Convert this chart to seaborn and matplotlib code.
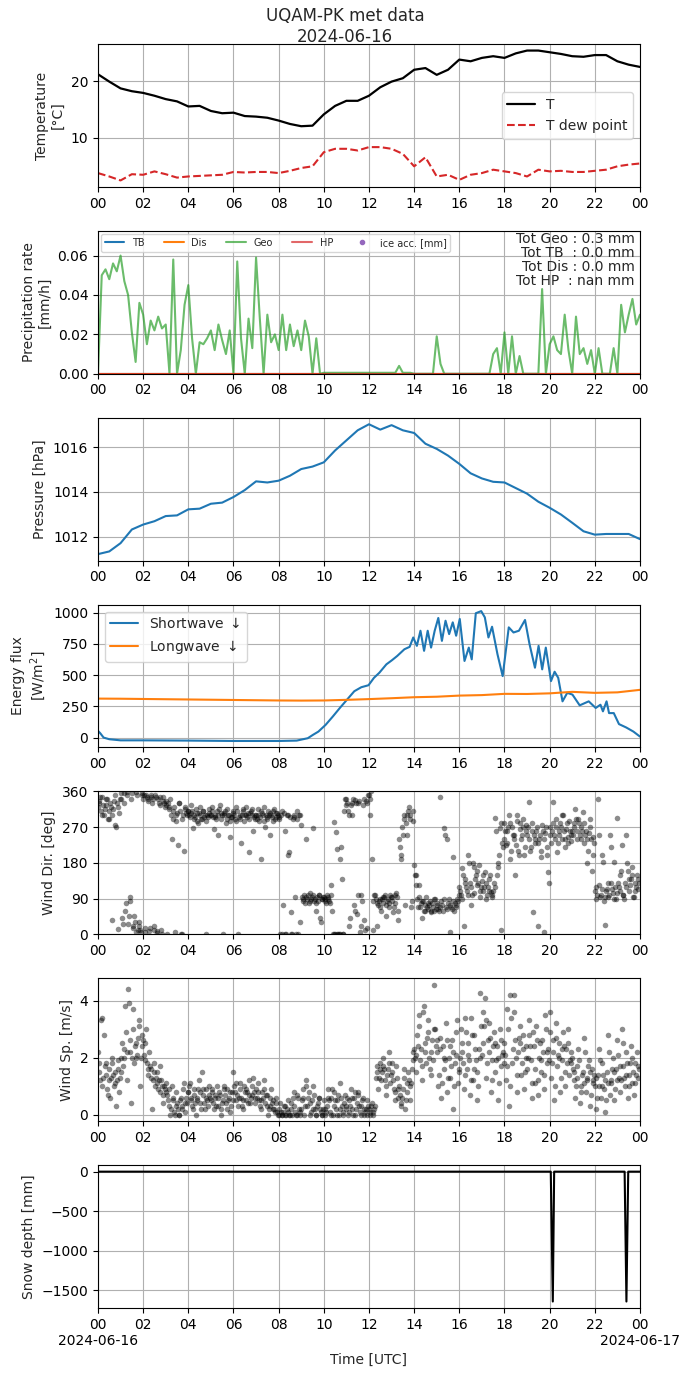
import numpy as np
import pandas as pd
import matplotlib
matplotlib.use("Agg")
import matplotlib.pyplot as plt
import matplotlib.dates as mdates
from matplotlib.ticker import MultipleLocator
import seaborn as sns

OUT_PATH = "out.png"
DAY      = pd.Timestamp("2024-06-16")

# temperature + dew point, every 30 min (degC)
temp_T = [21.2, 19.9, 18.7, 18.2, 17.9, 17.4, 16.8, 16.4, 15.5, 15.6,
          14.7, 14.3, 14.4, 13.8, 13.7, 13.5, 13.0, 12.4, 12.0, 12.1,
          14.1, 15.6, 16.5, 16.5, 17.4, 18.9, 19.9, 20.5, 22.0, 22.3,
          21.1, 22.0, 23.8, 23.5, 24.1, 24.4, 24.1, 24.9, 25.4, 25.4,
          25.1, 24.8, 24.4, 24.3, 24.6, 24.6, 23.5, 22.9, 22.5]
temp_Td = [3.7, 3.1, 2.4, 3.5, 3.4, 4.0, 3.5, 2.9, 3.1, 3.2,
           3.3, 3.4, 3.9, 3.8, 3.9, 3.9, 3.7, 4.1, 4.6, 4.9,
           7.4, 8.0, 8.0, 7.7, 8.3, 8.3, 8.0, 7.1, 4.9, 6.5,
           3.1, 3.4, 2.5, 3.4, 3.7, 4.3, 4.0, 3.7, 3.1, 4.3,
           4.0, 4.1, 3.9, 3.9, 4.1, 4.3, 4.9, 5.2, 5.4]

# precipitation rate, every 10 min (mm/h)
precip_geo = [
    0.000, 0.050, 0.053, 0.048, 0.056, 0.052,
    0.060, 0.047, 0.040, 0.021, 0.006, 0.036,
    0.030, 0.015, 0.027, 0.022, 0.029, 0.023,
    0.025, 0.000, 0.058, 0.000, 0.012, 0.035,
    0.045, 0.018, 0.000, 0.016, 0.015, 0.018,
    0.022, 0.012, 0.025, 0.017, 0.010, 0.022,
    0.000, 0.057, 0.018, 0.000, 0.028, 0.013,
    0.059, 0.028, 0.000, 0.030, 0.016, 0.020,
    0.012, 0.030, 0.012, 0.025, 0.014, 0.022,
    0.012, 0.027, 0.019, 0.000, 0.018, 0.000,
    0.0005, 0.0005, 0.0005, 0.0005, 0.0005, 0.0005,
    0.0005, 0.0005, 0.0005, 0.0005, 0.0005, 0.0005,
    0.0005, 0.0005, 0.0005, 0.0005, 0.0005, 0.0005,
    0.0005, 0.0005, 0.004, 0.0005, 0.0005, 0.0005,
    0.000, 0.000, 0.000, 0.000, 0.000, 0.000,
    0.019, 0.005, 0.000, 0.000, 0.000, 0.000,
    0.000, 0.000, 0.000, 0.000, 0.000, 0.000,
    0.000, 0.000, 0.000, 0.010, 0.013, 0.000,
    0.021, 0.000, 0.019, 0.000, 0.009, 0.000,
    0.000, 0.000, 0.000, 0.000, 0.043, 0.000,
    0.015, 0.019, 0.012, 0.010, 0.030, 0.012,
    0.000, 0.029, 0.010, 0.013, 0.005, 0.012,
    0.000, 0.013, 0.000, 0.000, 0.000, 0.013,
    0.000, 0.035, 0.021, 0.030, 0.038, 0.025,
    0.030]
precip_tb  = [0.0] * len(precip_geo)
precip_dis = [0.0] * len(precip_geo)
precip_hp  = [0.0] * len(precip_geo)

# pressure, every 30 min (hPa)
pressure = [1011.22, 1011.34, 1011.71, 1012.32, 1012.54, 1012.69, 1012.92, 1012.95,
            1013.22, 1013.25, 1013.47, 1013.52, 1013.77, 1014.08, 1014.47, 1014.42,
            1014.50, 1014.72, 1015.02, 1015.13, 1015.32, 1015.85, 1016.30, 1016.75,
            1017.02, 1016.78, 1016.98, 1016.75, 1016.63, 1016.15, 1015.92, 1015.62,
            1015.25, 1014.83, 1014.60, 1014.45, 1014.42, 1014.17, 1013.92, 1013.56,
            1013.29, 1012.99, 1012.62, 1012.24, 1012.09, 1012.12, 1012.12, 1012.12,
            1011.89]

# shortwave down (W/m2), irregular read-off times in hours
sw_hour = [0.0, 0.1, 0.25, 0.5, 1.0, 2.0, 4.0, 6.0, 8.0, 8.8, 9.29, 9.52, 9.76,
           10.08, 10.4, 10.71, 11.03, 11.35, 11.66, 11.98, 12.22, 12.46, 12.77,
           13.01, 13.25, 13.57, 13.8, 13.96, 14.12, 14.28, 14.44, 14.6, 14.75,
           14.91, 15.07, 15.23, 15.39, 15.55, 15.71, 15.86, 16.02, 16.23, 16.42,
           16.55, 16.73, 16.97, 17.13, 17.29, 17.45, 17.69, 17.92, 18.19, 18.4,
           18.64, 18.91, 19.11, 19.35, 19.51, 19.67, 19.83, 20.06, 20.22, 20.38,
           20.57, 20.78, 21.01, 21.33, 21.73, 22.04, 22.25, 22.36, 22.52, 22.63,
           22.84, 23.07, 23.39, 23.71, 24.0]
sw_down = [54, 35, 0, -13, -22, -22, -24, -27, -27, -24, -5, 22, 48,
           102, 169, 237, 304, 371, 403, 419, 478, 519, 586,
           618, 653, 707, 726, 801, 734, 855, 694, 855, 720,
           855, 957, 774, 935, 828, 922, 815, 949, 613, 720,
           626, 995, 1012, 962, 801, 887, 667, 492, 882, 841,
           855, 941, 747, 559, 734, 546, 720, 452, 527, 478,
           290, 358, 344, 258, 290, 237, 263, 210, 290, 196,
           196, 108, 81, 48, 8]

# longwave down, hourly (W/m2)
lw_down = [312, 311, 309, 307, 305, 303, 301, 299, 297, 296, 297, 302, 308,
           315, 323, 327, 336, 340, 350, 349, 354, 366, 358, 362, 382]

# wind direction (deg), one value every 2 min, one row per hour
wind_dir = [
    320, 330, 335, 345, 310, 300, 345, 325, 300, 315, 325, 340, 340, 290, 290, 310, 330, 320, 37, 300, 315, 335, 350, 275, 270, 330, 13, 320, 305, 340,
    355, 340, 40, 25, 330, 355, 60, 80, 358, 350, 25, 45, 85, 95, 340, 355, 20, 15, 45, 30, 5, 358, 352, 10, 30, 20, 10, 5, 355, 350,
    340, 350, 15, 5, 350, 345, 335, 340, 8, 15, 345, 350, 330, 340, 20, 10, 350, 345, 3, 8, 340, 330, 325, 345, 12, 0, 345, 335, 330, 320,
    335, 325, 0, 330, 320, 315, 340, 300, 241, 290, 310, 320, 5, 285, 300, 305, 225, 330, 330, 310, 0, 0, 290, 300, 210, 320, 315, 305, 300, 310,
    310, 300, 295, 305, 325, 310, 267, 290, 300, 295, 315, 305, 285, 280, 305, 300, 320, 290, 290, 310, 310, 295, 300, 285, 0, 300, 295, 305, 315, 300,
    300, 310, 320, 295, 265, 300, 295, 290, 310, 300, 250, 315, 325, 305, 290, 300, 0, 300, 305, 310, 280, 290, 315, 300, 300, 285, 245, 295, 295, 310,
    305, 300, 290, 285, 320, 310, 0, 295, 300, 290, 229, 300, 310, 315, 285, 300, 320, 300, 295, 305, 208, 290, 305, 310, 315, 300, 260, 295, 290, 300,
    300, 290, 315, 300, 285, 295, 190, 310, 305, 300, 320, 285, 270, 300, 295, 290, 310, 300, 250, 305, 300, 295, 285, 310, 315, 290, 295, 305, 305, 300,
    290, 295, 0, 300, 310, 0, 73, 305, 260, 0, 0, 300, 300, 200, 208, 295, 56, 0, 0, 290, 295, 300, 94, 0, 310, 290, 0, 300, 300, 30,
    275, 95, 85, 90, 100, 80, 241, 95, 90, 100, 80, 85, 105, 90, 95, 100, 267, 85, 90, 80, 60, 95, 85, 100, 100, 40, 30, 90, 88, 95,
    95, 90, 85, 80, 100, 95, 90, 85, 80, 100, 124, 60, 0, 0, 283, 0, 258, 0, 216, 0, 0, 0, 191, 220, 140, 0, 0, 310, 340, 325,
    340, 330, 310, 300, 20, 40, 325, 330, 300, 340, 73, 60, 338, 330, 50, 98, 330, 335, 6, 20, 98, 85, 325, 340, 35, 10, 335, 330, 15, 350,
    350, 340, 300, 360, 191, 10, 85, 100, 98, 90, 20, 80, 75, 85, 90, 70, 60, 90, 80, 95, 95, 100, 45, 75, 85, 90, 70, 80, 100, 95,
    95, 85, 56, 70, 80, 100, 105, 95, 35, 60, 241, 220, 200, 190, 270, 250, 290, 300, 75, 280, 250, 300, 310, 320, 300, 290, 70, 85, 285, 310,
    174, 150, 150, 124, 90, 70, 124, 95, 70, 80, 40, 85, 85, 60, 60, 75, 95, 70, 65, 80, 75, 85, 55, 60, 80, 70, 60, 90, 90, 65,
    75, 80, 65, 60, 346, 70, 85, 75, 60, 90, 267, 250, 70, 65, 241, 80, 90, 75, 5, 70, 65, 85, 195, 60, 80, 75, 70, 90, 85, 100,
    120, 110, 100, 90, 166, 150, 20, 130, 140, 120, 110, 100, 199, 180, 130, 120, 75, 100, 180, 170, 105, 140, 150, 160, 125, 130, 174, 110, 95, 120,
    135, 150, 110, 120, 157, 130, 90, 100, 120, 110, 140, 150, 107, 95, 100, 110, 130, 120, 292, 260, 150, 170, 180, 200, 267, 280, 10, 230, 220, 240,
    280, 260, 225, 230, 260, 270, 300, 280, 190, 210, 270, 250, 250, 240, 149, 225, 285, 300, 210, 200, 265, 280, 240, 250, 290, 270, 200, 220, 275, 260,
    250, 270, 334, 240, 210, 220, 280, 260, 56, 250, 230, 240, 260, 270, 20, 230, 240, 250, 195, 210, 275, 260, 6, 240, 255, 270, 220, 200, 157, 130,
    270, 250, 230, 260, 334, 280, 250, 240, 290, 270, 208, 230, 260, 250, 280, 270, 240, 300, 300, 260, 220, 240, 265, 280, 245, 230, 285, 260, 235, 250,
    260, 250, 280, 270, 317, 290, 240, 260, 290, 280, 250, 240, 270, 260, 309, 280, 230, 250, 260, 240, 180, 210, 255, 270, 290, 240, 160, 200, 245, 230,
    110, 120, 90, 100, 342, 250, 125, 95, 100, 115, 200, 183, 85, 95, 23, 110, 115, 130, 95, 100, 250, 220, 130, 115, 105, 90, 183, 120, 90, 105,
    292, 130, 120, 110, 150, 160, 225, 100, 100, 90, 130, 120, 250, 180, 160, 140, 110, 125, 140, 150, 170, 95, 95, 110, 130, 120, 150, 140, 115, 130,
]

# wind speed (m/s), one value every 2 min, one row per hour
wind_spd = [
    2.2, 1.8, 1.5, 1.2, 3.3, 3.4, 1.0, 1.3, 2.8, 1.7, 1.8, 1.4, 0.9, 0.7, 1.2, 1.6, 0.6, 1.3, 2.0, 1.8, 1.4, 1.0, 1.1, 1.5, 0.3, 1.2, 1.6, 1.9, 0.8, 1.3,
    1.5, 2.0, 2.5, 1.7, 2.0, 2.3, 3.8, 2.9, 1.2, 2.2, 4.4, 3.9, 2.2, 2.6, 0.4, 2.0, 3.7, 3.0, 1.8, 2.4, 2.5, 2.0, 2.1, 2.7, 3.3, 3.1, 1.0, 2.0, 2.8, 2.4,
    2.6, 2.1, 1.9, 2.5, 3.0, 1.8, 1.6, 1.4, 2.2, 1.7, 1.3, 1.6, 0.2, 1.2, 1.8, 1.5, 1.0, 1.3, 1.5, 1.1, 0.9, 1.2, 1.7, 0.8, 1.2, 1.0, 0.4, 0.7, 1.0, 0.9,
    1.1, 0.8, 0.7, 0.5, 0.3, 0.9, 0.0, 0.2, 1.0, 0.6, 0.5, 0.1, 0.0, 0.3, 0.8, 0.4, 0.2, 0.0, 0.0, 0.5, 0.6, 0.2, 0.3, 0.9, 1.1, 0.4, 0.1, 0.6, 0.4, 0.8,
    0.8, 1.0, 1.1, 0.6, 0.5, 0.3, 0.2, 0.7, 0.9, 0.4, 0.0, 0.5, 0.6, 0.9, 1.2, 0.8, 0.4, 0.2, 1.5, 0.9, 0.7, 0.4, 0.2, 0.6, 0.9, 0.5, 0.3, 0.7, 1.0, 0.6,
    0.5, 0.9, 0.8, 0.4, 0.2, 0.7, 0.6, 0.3, 1.0, 0.6, 0.3, 0.8, 0.7, 0.2, 0.0, 0.4, 0.5, 0.9, 1.0, 0.7, 0.4, 0.2, 0.9, 0.5, 0.6, 0.8, 0.1, 0.3, 0.8, 0.5,
    1.5, 1.0, 0.8, 0.5, 1.1, 0.7, 0.3, 0.6, 0.9, 1.1, 0.6, 0.3, 0.2, 0.5, 1.0, 0.8, 0.5, 0.9, 0.8, 0.4, 1.2, 0.7, 0.4, 0.6, 0.7, 1.0, 1.3, 0.8, 0.6, 0.4,
    0.9, 0.6, 1.1, 0.8, 0.5, 0.3, 0.2, 0.5, 0.8, 0.6, 1.2, 0.9, 0.4, 0.7, 0.7, 0.3, 0.0, 0.2, 0.3, 0.6, 0.9, 0.4, 0.5, 0.2, 0.2, 0.1, 0.6, 0.4, 0.1, 0.0,
    0.0, 0.2, 0.4, 0.1, 0.0, 0.0, 0.1, 0.3, 0.3, 0.0, 0.0, 0.2, 0.5, 0.1, 0.0, 0.0, 0.2, 0.4, 0.0, 0.6, 0.8, 0.3, 0.1, 0.0, 0.0, 0.7, 0.6, 0.2, 0.0, 0.1,
    0.2, 0.5, 0.6, 0.9, 0.0, 0.3, 1.2, 1.0, 0.3, 0.6, 0.8, 0.4, 0.0, 0.1, 0.5, 0.2, 1.0, 0.7, 0.2, 0.0, 0.0, 0.3, 0.4, 0.6, 0.6, 0.2, 0.1, 0.0, 0.0, 0.2,
    0.5, 0.2, 0.0, 0.1, 0.3, 0.6, 0.9, 0.5, 0.1, 0.0, 0.6, 0.9, 0.0, 0.3, 0.8, 0.5, 0.2, 0.0, 0.5, 0.7, 0.0, 0.2, 1.1, 0.6, 0.3, 0.0, 0.1, 0.4, 0.7, 0.2,
    0.3, 0.6, 0.0, 0.1, 0.5, 0.3, 0.9, 0.6, 0.2, 0.0, 0.6, 0.8, 0.0, 0.2, 0.4, 0.7, 0.8, 0.3, 0.1, 0.0, 0.3, 0.5, 0.6, 0.2, 0.0, 0.1, 0.2, 0.0, 0.5, 0.3,
    0.2, 0.1, 0.0, 0.3, 0.4, 0.0, 0.1, 0.2, 0.3, 1.3, 1.5, 1.7, 0.9, 1.3, 1.8, 1.6, 1.2, 1.5, 2.0, 1.7, 1.6, 1.2, 0.7, 1.0, 1.4, 1.6, 2.2, 1.8, 1.1, 1.4,
    1.8, 1.5, 1.2, 0.9, 0.5, 0.8, 1.7, 1.3, 0.9, 0.6, 1.0, 0.7, 0.4, 0.3, 0.6, 0.9, 1.3, 1.6, 0.2, 0.5, 0.8, 1.1, 1.5, 1.2, 0.5, 1.0, 1.1, 1.6, 1.9, 2.2,
    2.3, 2.0, 1.5, 2.1, 2.8, 2.4, 3.1, 3.5, 1.9, 2.3, 1.2, 1.7, 3.6, 3.8, 2.5, 2.2, 1.8, 2.7, 3.3, 2.9, 2.0, 1.6, 1.4, 2.2, 2.6, 1.9, 4.55, 3.0, 3.0, 2.4,
    2.2, 2.6, 1.0, 1.4, 2.7, 2.3, 0.6, 1.1, 2.4, 2.0, 1.6, 1.9, 3.2, 2.6, 0.8, 1.3, 2.0, 2.4, 1.3, 1.7, 2.6, 2.2, 0.2, 1.0, 1.8, 2.1, 2.9, 3.3, 1.1, 1.6,
    1.5, 2.0, 3.0, 2.5, 2.2, 1.8, 0.9, 1.4, 3.4, 2.9, 1.6, 2.1, 2.5, 1.9, 0.7, 1.2, 3.4, 2.8, 1.2, 1.6, 2.8, 2.3, 1.9, 1.5, 0.5, 1.0, 2.3, 2.0, 4.25, 3.1,
    2.1, 2.5, 3.6, 3.1, 4.1, 3.3, 1.3, 1.8, 2.6, 2.2, 3.2, 2.7, 0.8, 1.2, 1.9, 2.4, 2.9, 2.5, 1.5, 1.9, 2.4, 2.0, 0.5, 1.1, 3.0, 2.6, 1.7, 2.1, 2.2, 1.8,
    2.5, 2.1, 1.2, 1.7, 3.7, 3.0, 0.3, 1.0, 4.2, 3.4, 1.8, 2.3, 4.2, 3.6, 2.6, 2.0, 0.8, 1.4, 2.2, 2.7, 3.1, 2.5, 1.4, 1.8, 2.8, 2.3, 0.9, 1.5, 2.0, 2.4,
    1.6, 2.0, 3.3, 2.8, 2.4, 1.9, 0.6, 1.1, 2.9, 2.4, 1.1, 1.6, 3.1, 2.6, 0.7, 1.2, 2.0, 2.5, 1.5, 1.9, 2.6, 2.2, 0.9, 1.4, 3.5, 3.0, 1.8, 2.2, 2.3, 1.9,
    3.6, 2.9, 1.3, 1.8, 2.2, 2.6, 0.5, 1.0, 3.2, 2.7, 1.7, 2.1, 2.5, 2.0, 0.8, 1.3, 1.9, 2.3, 2.9, 2.4, 1.0, 1.5, 2.3, 1.8, 3.0, 2.5, 1.4, 1.9, 1.8, 2.2,
    2.0, 1.6, 1.2, 1.5, 0.6, 1.0, 1.7, 1.3, 2.3, 1.9, 0.4, 0.8, 1.0, 1.4, 1.5, 1.1, 2.7, 2.2, 0.8, 1.2, 1.3, 1.7, 1.9, 1.5, 0.3, 0.7, 1.6, 1.2, 1.1, 1.4,
    1.0, 1.3, 0.2, 0.6, 1.4, 1.0, 2.3, 1.9, 0.6, 1.0, 1.8, 1.4, 0.9, 1.2, 0.1, 0.5, 1.5, 1.1, 2.8, 2.2, 0.7, 1.1, 1.2, 1.6, 2.0, 1.5, 0.5, 0.9, 1.6, 1.2,
    2.6, 2.1, 1.3, 1.7, 0.8, 1.2, 3.0, 2.5, 1.7, 1.3, 1.0, 1.4, 2.2, 1.8, 0.6, 1.0, 1.4, 1.8, 2.4, 2.0, 1.1, 1.5, 0.7, 1.1, 1.8, 1.4, 2.2, 1.7, 1.3, 1.6,
]

# snow depth (mm), read-off times in hours
snow_hour  = [0.0, 20.05, 20.14, 20.2, 23.32, 23.4, 23.48, 24.0]
snow_depth = [0, 0, -1640, 0, 0, -1640, 0, 0]


def to_time(hours):
    return DAY + pd.to_timedelta(np.asarray(hours, dtype=float), unit="h")


def regular_time(n, step_min):
    return DAY + pd.to_timedelta(np.arange(n) * step_min, unit="m")


sns.set_style("ticks")
plt.rcParams["font.family"] = ["DejaVu Sans"]

fig, axes = plt.subplots(7, 1, figsize=(6.9, 13.77), dpi=100)
fig.subplots_adjust(left=0.142, right=0.9275, top=0.968, bottom=0.0501, hspace=0.308)
fig.suptitle("UQAM-PK met data\n2024-06-16", fontsize=12, y=0.995)

# Temperature
ax = axes[0]
t30 = regular_time(len(temp_T), 30)
sns.lineplot(x=t30, y=temp_T, ax=ax, color="k", lw=1.6, label="T")
sns.lineplot(x=t30, y=temp_Td, ax=ax, color="tab:red", lw=1.5, ls="--", label="T dew point")
ax.set_ylabel("Temperature\n[°C]")
ax.yaxis.set_major_locator(MultipleLocator(10))
ax.legend(loc="center right", fontsize=10)

# Precipitation
ax = axes[1]
t10 = regular_time(len(precip_geo), 10)
sns.lineplot(x=t10, y=precip_tb, ax=ax, color="C0", lw=1.5, label="TB")
sns.lineplot(x=t10, y=precip_dis, ax=ax, color="C1", lw=1.5, label="Dis")
sns.lineplot(x=t10, y=precip_geo, ax=ax, color="C2", lw=1.5, alpha=0.7, label="Geo")
sns.lineplot(x=t10, y=precip_hp, ax=ax, color="C3", lw=1.5, alpha=0.7, label="HP")
ax.plot([], [], "o", color="C4", ms=3, label="ice acc. [mm]")
ax.set_ylim(0, 0.0725)
ax.yaxis.set_major_locator(MultipleLocator(0.02))
ax.set_ylabel("Precipitation rate\n[mm/h]")
ax.legend(loc="upper left", ncol=5, fontsize=7, borderaxespad=0.3)
dt_h = 10 / 60
tot_geo = np.sum(precip_geo[:-1]) * dt_h
tot_tb = np.sum(precip_tb[:-1]) * dt_h
tot_dis = np.sum(precip_dis[:-1]) * dt_h
tot_hp = np.nan
totals = (f"Tot Geo : {tot_geo:.1f} mm\n"
          f"Tot TB  : {tot_tb:.1f} mm\n"
          f"Tot Dis : {tot_dis:.1f} mm\n"
          f"Tot HP  : {tot_hp:.1f} mm")
ax.text(0.99, 0.99, totals, transform=ax.transAxes, ha="right", va="top",
        fontsize=10, linespacing=1.0)

# Pressure
ax = axes[2]
sns.lineplot(x=regular_time(len(pressure), 30), y=pressure, ax=ax, color="C0", lw=1.5)
ax.yaxis.set_major_locator(MultipleLocator(2))
ax.set_ylabel("Pressure [hPa]")

# Radiation
ax = axes[3]
sns.lineplot(x=to_time(sw_hour), y=sw_down, ax=ax, color="C0", lw=1.5, label="Shortwave $\\downarrow$")
sns.lineplot(x=regular_time(len(lw_down), 60), y=lw_down, ax=ax, color="C1", lw=1.5, label="Longwave $\\downarrow$")
ax.yaxis.set_major_locator(MultipleLocator(250))
ax.set_ylabel("Energy flux\n[W/m$^2$]")
ax.legend(loc="upper left", fontsize=10)

# Wind direction
ax = axes[4]
sns.scatterplot(x=regular_time(len(wind_dir), 2), y=wind_dir, ax=ax, color="k", alpha=0.45, s=16, linewidth=0)
ax.set_ylim(0, 360)
ax.set_yticks([0, 90, 180, 270, 360])
ax.set_ylabel("Wind Dir. [deg]")

# Wind speed
ax = axes[5]
sns.scatterplot(x=regular_time(len(wind_spd), 2), y=wind_spd, ax=ax, color="k", alpha=0.45, s=16, linewidth=0)
ax.yaxis.set_major_locator(MultipleLocator(2))
ax.set_ylabel("Wind Sp. [m/s]")

# Snow depth
ax = axes[6]
sns.lineplot(x=to_time(snow_hour), y=snow_depth, ax=ax, color="k", lw=1.5)
ax.yaxis.set_major_locator(MultipleLocator(500))
ax.set_ylabel("Snow depth [mm]")
ax.set_xlabel("Time [UTC]")

for i, ax in enumerate(axes):
    ax.set_xlim(DAY, DAY + pd.Timedelta(days=1))
    ax.xaxis.set_major_locator(mdates.HourLocator(byhour=range(0, 24, 2)))
    ax.xaxis.set_major_formatter(mdates.DateFormatter("%H"))
    if i < len(axes) - 1:
        ax.set_xlabel("")
    ax.grid(True, color="#b0b0b0", lw=0.8)
    for s in ax.spines.values():
        s.set_color("k")
    ax.tick_params(colors="k", labelsize=10)

# dates under the midnight ticks of the bottom panel
ax = axes[-1]
ax.xaxis.remove_overlapping_locs = False
ax.xaxis.set_minor_locator(mdates.DayLocator())
ax.xaxis.set_minor_formatter(mdates.DateFormatter("%Y-%m-%d"))
ax.tick_params(axis="x", which="minor", length=3.5, pad=15, labelsize=10, colors="k")

plt.savefig(OUT_PATH, dpi=100)
plt.close()
